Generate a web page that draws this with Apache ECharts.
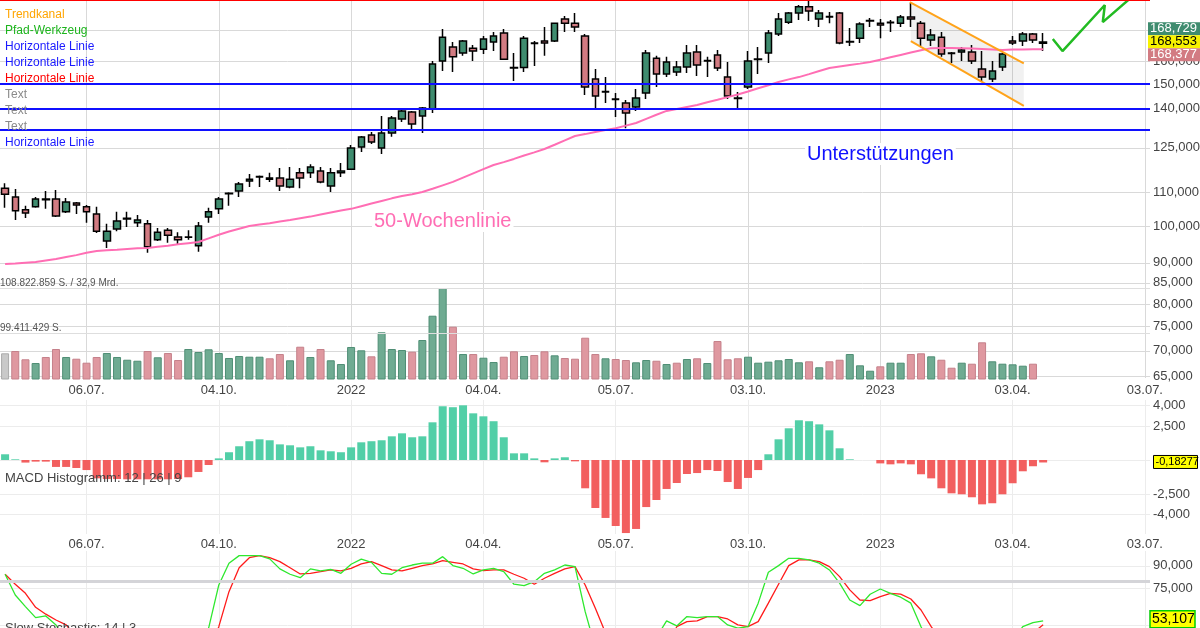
<!DOCTYPE html>
<html>
<head>
<meta charset="utf-8">
<title>Chart</title>
<script src="https://cdn.jsdelivr.net/npm/echarts@6.0.0/dist/echarts.min.js"></script>
<style>html,body{margin:0;padding:0;background:#fff;}#chart{width:1200px;height:628px;}</style>
</head>
<body>
<div id="chart"></div>
<script>
// ---------------- data ----------------
const startWeek = [2021, 4, 10];           // Monday 10.05.2021
const weekCount = 113;                      // up to week of 03.07.2023
const tickWeekIndex = [8, 21, 34, 47, 60, 73, 86, 99, 112];
const tickLabels = ['06.07.', '04.10.', '2022', '04.04.', '05.07.', '03.10.', '2023', '03.04.', '03.07.'];
const priceTicks = [65, 70, 75, 80, 85, 90, 100, 110, 125, 140, 150, 160, 175];
const macdTicks = [-4, -2.5, 0, 2.5, 4];
const stochTicks = [10, 25, 50, 75, 90];

// weekly candles: [open, close, low, high]
const candles = [
[111.4,109.5,105.3,113.0],[108.6,104.4,101.7,111.1],[104.7,103.8,102.3,105.9],[105.6,108.0,105.3,108.6],[107.8,108.0,105.0,110.5],
[108.0,102.9,102.6,110.8],[104.1,107.1,103.8,108.3],[106.8,106.2,103.5,107.1],[105.6,104.1,100.9,106.2],[103.5,98.5,98.0,105.6],
[95.8,98.5,93.9,100.6],[99.1,101.4,98.5,104.1],[102.0,102.2,99.7,104.1],[100.9,101.7,99.7,103.2],[100.6,94.2,92.6,101.7],
[96.1,98.2,95.8,99.4],[98.8,97.4,95.3,99.4],[96.9,96.1,95.0,98.2],[96.8,96.9,96.1,98.8],[94.5,100.0,92.9,101.1],
[102.6,104.1,100.9,105.3],[105.0,108.0,103.5,108.6],[109.6,109.8,105.9,110.1],[110.5,112.7,108.6,113.4],[113.7,114.3,111.8,116.0],
[115.0,115.2,111.8,115.5],[114.7,114.3,113.4,116.4],[114.7,112.1,110.5,118.0],[111.8,114.3,111.4,118.3],[116.4,114.7,111.4,118.0],
[116.4,118.3,114.7,119.3],[117.0,113.4,113.0,118.3],[112.1,116.4,110.2,118.0],[116.4,117.0,115.0,119.7],[117.6,124.9,117.3,126.0],
[125.3,128.9,123.5,129.3],[129.7,127.1,126.4,130.8],[124.9,130.4,122.8,136.9],[130.4,136.1,129.0,136.9],[135.7,138.9,134.6,140.1],
[138.5,133.8,131.9,138.9],[136.9,140.1,130.4,140.5],[139.7,158.8,138.1,160.2],[160.2,171.5,155.7,175.5],[166.7,162.1,155.2,169.1],
[163.9,169.6,162.6,170.1],[166.2,164.8,160.2,167.7],[165.7,170.6,163.4,172.0],[169.1,172.0,164.8,174.0],[173.5,161.0,160.6,175.5],
[157.3,157.0,151.3,163.9],[157.2,171.0,155.2,172.0],[168.4,168.6,157.9,169.6],[169.6,168.6,162.6,176.5],[169.6,178.5,169.1,178.7],
[180.6,178.5,174.0,182.2],[178.5,176.5,174.0,183.8],[172.0,148.7,145.4,173.0],[152.2,145.0,140.1,156.6],[146.6,146.8,142.1,153.0],
[143.5,143.7,136.5,146.2],[142.1,138.1,132.2,143.3],[140.5,144.1,138.9,147.9],[146.2,163.9,143.7,165.3],[161.5,154.4,148.7,162.6],
[154.4,159.7,153.0,162.1],[155.2,157.5,153.5,160.2],[157.5,163.9,154.8,167.7],[164.4,158.4,153.5,167.7],[160.2,160.4,153.0,162.1],
[163.0,157.0,155.7,165.3],[153.0,145.0,143.7,159.7],[143.9,144.1,140.1,146.6],[148.7,160.2,147.9,164.8],[160.9,161.1,154.4,166.7],
[163.9,173.5,159.3,175.0],[173.0,180.6,172.0,183.8],[179.0,183.8,178.0,184.3],[183.8,187.0,180.1,188.0],[187.0,184.8,179.6,190.2],
[180.6,183.8,176.5,185.3],[181.7,181.9,178.5,184.3],[183.8,168.6,168.1,184.3],[169.1,169.4,167.2,176.0],[171.0,178.0,168.6,179.0],
[179.6,179.8,176.5,181.2],[178.5,177.5,171.0,180.6],[178.7,179.0,174.0,180.1],[178.5,181.7,176.5,182.7],[181.7,180.6,176.5,189.1],
[178.5,171.0,167.2,179.6],[170.1,172.5,167.2,175.5],[171.5,163.4,162.1,174.0],[163.7,163.9,159.3,164.4],[164.4,165.3,160.2,166.7],
[164.4,160.2,158.8,167.7],[156.6,153.0,150.9,164.8],[152.2,155.7,150.9,160.2],[157.5,163.4,155.7,163.9],[169.6,168.6,167.7,172.0],
[169.6,173.0,167.2,174.0],[173.0,170.1,168.6,173.5],[169.1,168.553,164.8,173.5]
];

// 50-Wochenlinie
const ma50 = [89.7,89.8,90.0,90.2,90.6,91.0,91.5,92.0,92.6,93.1,
93.3,93.4,93.6,93.8,93.9,94.2,94.5,94.9,95.2,95.5,
96.5,97.5,98.4,99.2,100.0,100.4,100.8,101.3,101.7,102.2,
102.7,103.3,103.9,104.5,105.0,105.8,106.6,107.4,108.2,108.9,
109.5,110.2,111.2,112.3,113.4,114.8,116.2,117.6,119.0,120.0,
121.1,122.3,123.4,124.6,126.1,127.7,129.3,130.0,130.8,131.5,
132.2,133.2,134.2,135.8,137.4,138.9,139.7,140.5,141.3,142.4,
143.4,144.5,145.6,146.8,148.2,149.5,150.9,152.0,153.0,154.3,
155.7,157.0,157.7,158.4,159.0,159.7,160.8,161.9,163.0,164.1,
165.2,166.2,166.3,166.3,166.2,166.0,165.8,165.6,165.3,165.5,
165.6,165.7,165.7];

// volume (millions of shares) and bar colour (n = neutral, g = up, r = down)
const volumes = [95.17,95.65,93.92,93.14,94.40,96.07,94.40,94.04,93.21,94.40,
95.23,94.40,93.83,93.62,95.65,94.34,95.23,93.77,96.07,95.44,
96.01,95.23,94.19,94.61,94.46,94.46,94.13,95.02,93.71,96.55,
94.40,96.07,93.71,92.93,96.49,95.80,94.54,99.56,96.07,95.86,
95.51,97.95,103.03,108.82,100.73,95.02,95.02,94.25,93.35,94.46,
95.59,94.61,94.82,95.59,94.75,94.19,94.04,98.43,95.02,94.13,
93.98,93.77,93.29,93.77,93.62,92.93,93.21,93.98,94.13,93.14,
97.74,93.92,94.13,94.46,93.21,93.42,93.71,93.98,93.29,93.50,
92.25,93.50,93.83,95.02,92.66,91.53,92.45,93.21,93.21,95.02,
95.17,94.54,93.83,92.16,93.21,93.00,97.47,93.50,93.00,92.87,
92.58,93.00];
const volumeDir = ('nrrgrrgrrr' + 'ggggrgrrgg' + 'ggggggrrgr' + 'grggggrggg' + 'rgggrgrggr' +
  'rgrrgrrrrg' + 'rrggrgrgrg' + 'rrrggggggr' + 'grrgggrggr' + 'rgrrgrrggg' + 'gr').split('');
const volumeMax = 108.822859;
const volumeRef = 99.411429;

// MACD histogram 12 | 26 | 9
const macdHist = [0.42,0.05,-0.19,-0.12,-0.12,-0.51,-0.51,-0.59,-0.74,-1.35,
-1.40,-1.40,-1.42,-1.42,-1.42,-1.42,-1.42,-1.40,-1.27,-0.88,
-0.37,0.12,0.57,1.01,1.38,1.52,1.45,1.15,1.08,0.93,
1.01,0.71,0.64,0.57,0.93,1.30,1.38,1.45,1.74,1.96,
1.67,1.74,2.77,3.95,3.88,4.02,3.43,3.21,2.85,1.67,
0.49,0.49,0.12,-0.17,0.12,0.20,-0.10,-2.08,-3.53,-4.26,
-4.85,-5.37,-5.07,-3.46,-2.94,-2.13,-1.69,-1.03,-0.96,-0.74,
-0.81,-1.62,-2.13,-1.32,-0.74,0.42,1.52,2.33,2.92,2.85,
2.62,2.18,0.86,0.05,0,0,-0.25,-0.32,-0.25,-0.32,
-1.05,-1.35,-2.08,-2.45,-2.52,-2.74,-3.26,-3.18,-2.52,-1.71,
-0.83,-0.46,-0.18277];

// Slow Stochastic 14 | 3
const stochK = [84.4,70.5,62.7,55.3,56.4,50.4,40,30,26,18,
10,14,20,22,10,12,10,12,16,30,
48.3,77.2,91.8,96.9,96.9,96.9,94.7,88.0,84.4,82.1,
88.0,86.6,87.7,85.0,91.1,94.5,92.4,85.0,84.4,88.8,
90.6,91.8,91.8,96.2,90.2,88.4,84.6,87.3,88.4,86.1,
77.7,76.7,79.4,85.0,87.3,90.6,89.5,59.3,35,20,
12,8,14,28,42,53.1,49.7,56.0,55.3,56.0,
56.0,50.4,48.2,49.2,65.0,85.7,90.2,95.1,95.1,94.0,
91.8,87.3,78.4,67.1,63.3,71.0,74.5,71.6,69.0,65.0,
49.2,35,25,18,14,12,10,15,28,40,
49.2,51.9,53.107];
const stochD = [84.4,77.7,71.6,62.2,57.6,53.7,50.4,42,33,25,
18,14,14,18,17,14,11,11,13,19,
31,49.2,72.7,88.8,95.5,96.9,95.5,92.9,88.8,84.6,
85.0,86.1,87.3,86.6,88.4,91.3,92.9,90.2,87.3,86.6,
88.4,90.2,91.3,93.5,92.4,91.3,88.0,86.8,87.3,87.3,
84.4,81.7,77.7,81.7,85.0,88.0,89.5,77.2,61.6,45,
30,18,12,14,22,35,49.2,52.6,53.1,56.0,
56.0,54.4,50.4,49.2,52.6,65.0,77.7,90.2,94.0,94.0,
92.9,89.5,82.8,73.9,67.1,66.7,69.4,71.6,71.0,67.8,
60.4,49.2,40,28,20,15,13,12,18,28,
38,45,50.5];
const stochLevels = [80, 20];

// drawing tools (week index, price)
const supportLines = [150, 140, 131.5];
const resistanceLine = 190;
const channelUpper = [[88.9, 189.5], [100.1, 159.1]];
const channelLower = [[89.0, 169.6], [100.1, 140.9]];
const pathTool = [[102.95, 170.6], [103.9, 164.8], [108.06, 188.0], [107.86, 179.0], [110.8, 192.8]];
const priceTags = [168.729, 168.553, 168.377];
const lastClose = 168.553;
const macdLast = -0.18277;
const stochLast = 53.107;
const drawingLegend = [
  ['Trendkanal', '#ffa500'], ['Pfad-Werkzeug', '#1db41d'], ['Horizontale Linie', '#1a1aff'],
  ['Horizontale Linie', '#1a1aff'], ['Horizontale Linie', '#ff0000'], ['Text', '#8a8a8a'],
  ['Text', '#8a8a8a'], ['Text', '#8a8a8a'], ['Horizontale Linie', '#1a1aff']
];

// ---------------- build ----------------
const FONT = '"Liberation Sans", Arial, Helvetica, sans-serif';
const L = Math.log;
const fmt = v => v.toFixed(3).replace('.', ',');
const priceMin = 64.76, priceMax = 190.7;

const categories = [];
for (let i = 0; i < weekCount; i++) {
  const d = new Date(Date.UTC(startWeek[0], startWeek[1], startWeek[2] + 7 * i));
  categories.push(d.toISOString().slice(0, 10));
}

const GREEN = '#3f8c6f', RED = '#d27b82';

function catAxis(grid, labels, margin) {
  return {
    type: 'category', gridIndex: grid, data: categories, boundaryGap: true,
    axisLine: { show: false }, axisTick: { show: false }, splitLine: { show: false },
    axisLabel: labels ? {
      show: true, interval: (i) => tickWeekIndex.includes(i),
      formatter: (v, i) => tickLabels[tickWeekIndex.indexOf(i)],
      color: '#444', fontSize: 13, fontFamily: FONT, margin: margin
    } : { show: false }
  };
}
function lineAxis(grid, color) {
  return {
    type: 'value', gridIndex: grid, min: -0.5, max: weekCount - 0.5,
    axisLine: { show: false }, axisLabel: { show: false },
    axisTick: { show: false, customValues: tickWeekIndex },
    splitLine: { show: true, lineStyle: { color: color, width: 1 } }
  };
}
function rightAxis(grid, min, max, ticks, toVal, fromVal, color) {
  return {
    type: 'value', gridIndex: grid, position: 'right', min: min, max: max,
    axisLine: { show: false },
    axisTick: { show: false, customValues: ticks.map(toVal) },
    axisLabel: { customValues: ticks.map(toVal), formatter: v => fmt(fromVal(v)),
      color: '#444', fontSize: 13, fontFamily: FONT, margin: 3 },
    splitLine: { show: true, lineStyle: { color: color, width: 1 } }
  };
}

const chart = echarts.init(document.getElementById('chart'), null, { renderer: 'canvas' });

const option = {
  animation: false,
  backgroundColor: '#ffffff',
  grid: [
    { left: 0, top: 0, width: 1150, height: 378, outerBoundsMode: 'none' },
    { left: 0, top: 288, width: 1150, height: 91, outerBoundsMode: 'none' },
    { left: 0, top: 400, width: 1150, height: 134, outerBoundsMode: 'none' },
    { left: 0, top: 551, width: 1150, height: 149, outerBoundsMode: 'none' }
  ],
  xAxis: [
    catAxis(0, true, 6), catAxis(1, false), catAxis(2, true, 4), catAxis(3, false),
    lineAxis(0, '#d9d9d9'), lineAxis(2, '#ececec'), lineAxis(3, '#ececec')
  ],
  yAxis: [
    rightAxis(0, L(priceMin), L(priceMax), priceTicks, L, v => Math.round(Math.exp(v)), '#d9d9d9'),
    { type: 'value', gridIndex: 1, min: 89.8, max: volumeMax, show: false, splitLine: { show: false } },
    rightAxis(2, -5.44, 4.41, macdTicks, v => v, v => v, '#ececec'),
    rightAxis(3, 0, 100, stochTicks, v => v, v => v, '#ececec')
  ],
  series: [
    {
      type: 'custom', xAxisIndex: 4, yAxisIndex: 0, data: [0], silent: true,
      renderItem: (params, api) => {
        const pts = [channelUpper[0], channelUpper[1], channelLower[1], channelLower[0]]
          .map(p => api.coord([p[0], L(p[1])]));
        return { type: 'polygon', shape: { points: pts }, style: { fill: 'rgba(0,0,0,0.055)' } };
      }
    },
    {
      type: 'bar', xAxisIndex: 1, yAxisIndex: 1, barWidth: 8, silent: true,
      data: volumes.map((v, i) => ({
        value: v,
        itemStyle: volumeDir[i] === 'g' ? { color: '#6fab92', borderColor: '#4f8e75', borderWidth: 1 }
          : volumeDir[i] === 'r' ? { color: '#df98a0', borderColor: '#c5808a', borderWidth: 1 }
          : { color: '#c9c9c9', borderColor: '#aaaaaa', borderWidth: 1 }
      })),
      markLine: {
        silent: true, symbol: 'none', animation: false,
        lineStyle: { color: '#dedede', width: 1, type: 'solid' },
        label: { show: true, position: 'insideStartTop', color: '#555', fontSize: 10, fontFamily: FONT, distance: [0, 0] },
        data: [
          { yAxis: volumeMax, label: { formatter: '108.822.859 S. / 32,9 Mrd.' } },
          { yAxis: volumeRef, label: { formatter: '99.411.429 S.' } }
        ]
      }
    },
    {
      type: 'candlestick', xAxisIndex: 0, yAxisIndex: 0, barWidth: 7, silent: true,
      data: candles.map(c => c.map(L)),
      itemStyle: { color: GREEN, color0: RED, borderColor: '#000', borderColor0: '#000', borderWidth: 1.5 }
    },
    {
      type: 'line', xAxisIndex: 0, yAxisIndex: 0, silent: true, symbol: 'none',
      data: ma50.map(L), lineStyle: { color: '#ff6eb4', width: 2 },
      markLine: {
        silent: true, symbol: 'none', animation: false, label: { show: false },
        data: supportLines.map(v => ({ yAxis: L(v), lineStyle: { color: '#1010ff', width: 2, type: 'solid' } }))
          .concat([{ yAxis: L(resistanceLine), lineStyle: { color: '#ff0000', width: 2, type: 'solid' } }])
      }
    },
    {
      type: 'line', xAxisIndex: 4, yAxisIndex: 0, silent: true, symbol: 'none',
      data: channelUpper.map(p => [p[0], L(p[1])]), lineStyle: { color: '#ffa31a', width: 2 }
    },
    {
      type: 'line', xAxisIndex: 4, yAxisIndex: 0, silent: true, symbol: 'none',
      data: channelLower.map(p => [p[0], L(p[1])]), lineStyle: { color: '#ffa31a', width: 2 }
    },
    {
      type: 'line', xAxisIndex: 4, yAxisIndex: 0, silent: true, symbol: 'none',
      data: pathTool.map(p => [p[0], L(p[1])]), lineStyle: { color: '#22bb22', width: 2.5 }
    },
    {
      type: 'bar', xAxisIndex: 2, yAxisIndex: 2, barWidth: 8, silent: true,
      data: macdHist.map(v => ({ value: v, itemStyle: { color: v >= 0 ? '#52cfa7' : '#f25f5f' } }))
    },
    {
      type: 'line', xAxisIndex: 3, yAxisIndex: 3, silent: true, symbol: 'none',
      data: stochD, lineStyle: { color: '#ff1a1a', width: 1.3 },
      markLine: {
        silent: true, symbol: 'none', animation: false, label: { show: false },
        lineStyle: { color: '#d4d4d8', width: 3, type: 'solid' },
        data: stochLevels.map(v => ({ yAxis: v }))
      }
    },
    {
      type: 'line', xAxisIndex: 3, yAxisIndex: 3, silent: true, symbol: 'none',
      data: stochK, lineStyle: { color: '#2ee82e', width: 1.3 }
    }
  ]
};
chart.setOption(option);

// ---------- annotations and value tags ----------
const closeY = chart.convertToPixel({ yAxisIndex: 0 }, L(lastClose));
const macdY = chart.convertToPixel({ yAxisIndex: 2 }, macdLast);
const stochY = chart.convertToPixel({ yAxisIndex: 3 }, stochLast);

const g = [];
drawingLegend.forEach((d, i) => {
  g.push({ type: 'text', z: 100, style: { text: d[0], x: 5, y: 15 + 16 * i, fill: d[1],
    font: '12px ' + FONT, verticalAlign: 'middle' } });
});
g.push({ type: 'text', z: 100, style: { text: '50-Wochenlinie', x: 372, y: 221, fill: '#ff6eb4',
  font: '20px ' + FONT, verticalAlign: 'middle', backgroundColor: '#fff', padding: [1, 2] } });
g.push({ type: 'text', z: 100, style: { text: 'Unterstützungen', x: 805, y: 154, fill: '#1010ff',
  font: '20px ' + FONT, verticalAlign: 'middle', backgroundColor: '#fff', padding: [1, 2] } });
g.push({ type: 'text', z: 100, style: { text: 'MACD Histogramm: 12 | 26 | 9', x: 5, y: 478, fill: '#444',
  font: '13px ' + FONT, verticalAlign: 'middle' } });
g.push({ type: 'text', z: 100, style: { text: 'Slow Stochastic: 14 | 3', x: 5, y: 628, fill: '#444',
  font: '13px ' + FONT, verticalAlign: 'middle' } });

const tagStyles = [
  { dy: -21, fill: GREEN, color: '#fff' },
  { dy: -8, fill: '#f7f200', color: '#000' },
  { dy: 5, fill: RED, color: '#fff' }
];
priceTags.forEach((v, i) => {
  const s = tagStyles[i];
  g.push({ type: 'rect', z: 110, shape: { x: 1148, y: closeY + s.dy, width: 52, height: 13 }, style: { fill: s.fill } });
  g.push({ type: 'text', z: 111, style: { text: fmt(v), x: 1150, y: closeY + s.dy + 6.5, fill: s.color,
    font: '13px ' + FONT, verticalAlign: 'middle' } });
});
g.push({ type: 'rect', z: 110, shape: { x: 1153.5, y: macdY - 7, width: 44, height: 13 },
  style: { fill: '#ffff00', stroke: '#000', lineWidth: 1 } });
g.push({ type: 'text', z: 111, style: { text: String(macdLast).replace('.', ','), x: 1155.5, y: macdY - 0.5, fill: '#000',
  font: '11px ' + FONT, verticalAlign: 'middle' } });
g.push({ type: 'rect', z: 110, shape: { x: 1150, y: stochY - 10, width: 45, height: 17 },
  style: { fill: '#ffff00', stroke: '#00cc00', lineWidth: 1.5 } });
g.push({ type: 'text', z: 111, style: { text: fmt(stochLast), x: 1152, y: stochY - 1.5, fill: '#000',
  font: '14px ' + FONT, verticalAlign: 'middle' } });

chart.setOption({ graphic: g });
</script>
</body>
</html>
